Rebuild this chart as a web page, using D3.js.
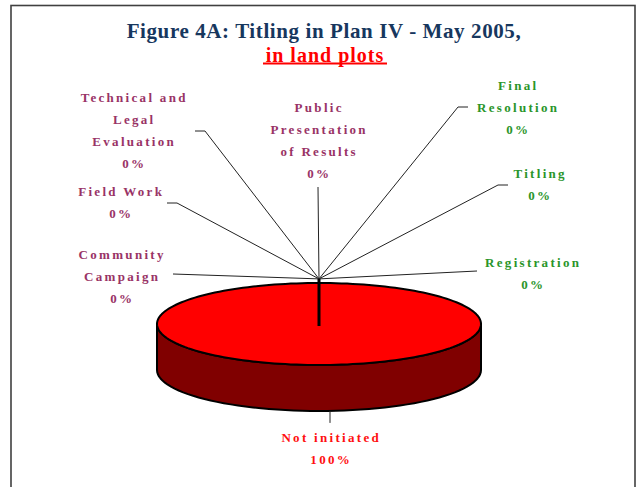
<!DOCTYPE html>
<html>
<head>
<meta charset="utf-8">
<script src="https://cdn.jsdelivr.net/npm/d3@7"></script>
<style>
body { margin: 0; background: #fff; }
svg { display: block; }
</style>
</head>
<body>
<div id="chart"></div>
<script>
// chart data
var categories = ["Not initiated", "Community Campaign", "Field Work", "Technical and Legal Evaluation",
	"Public Presentation of Results", "Final Resolution", "Titling", "Registration"];
var values = [100, 0, 0, 0, 0, 0, 0, 0];
var titleLine1 = "Figure 4A: Titling in Plan IV - May 2005,";
var titleLine2 = "in land plots";

// label layout (wrapped text, anchor, leader line end points)
var labelLayout = [
	{ lines : [ "Not initiated" ], x : 330, y : 437, color : "#ff1010" },
	{ lines : [ "Community", "Campaign" ], x : 121, y : 254, elbow : [ 173, 274 ], end : [ 173, 274 ], color : "#993366" },
	{ lines : [ "Field Work" ], x : 120, y : 191, elbow : [ 177, 203 ], end : [ 167, 203 ], color : "#993366" },
	{ lines : [ "Technical and", "Legal", "Evaluation" ], x : 133, y : 97, elbow : [ 205, 131 ], end : [ 195, 131 ], color : "#993366" },
	{ lines : [ "Public", "Presentation", "of Results" ], x : 318, y : 107, elbow : [ 318, 187 ], end : [ 318, 187 ], color : "#993366" },
	{ lines : [ "Final", "Resolution" ], x : 517, y : 85, elbow : [ 458, 107 ], end : [ 468, 107 ], color : "#2a952a" },
	{ lines : [ "Titling" ], x : 539, y : 173, elbow : [ 498, 185 ], end : [ 508, 185 ], color : "#2a952a" },
	{ lines : [ "Registration" ], x : 532, y : 262, elbow : [ 477, 271 ], end : [ 477, 271 ], color : "#2a952a" }
];

var width = 638, height = 487;
var cx = 319, cy = 324, rx = 162, ry = 41, depth = 46;

var svg = d3.select("#chart").append("svg").attr("width", width).attr("height", height);

// frame
svg.append("rect").attr("x", 11).attr("y", 5.5).attr("width", 624).attr("height", 500)
		.attr("fill", "none").attr("stroke", "#404040").attr("stroke-width", 1.6);

// title
svg.append("text").attr("x", 324).attr("y", 38).attr("text-anchor", "middle")
		.style("font-family", "'Liberation Serif', serif").style("font-weight", "bold")
		.style("font-size", "21px").style("letter-spacing", "0.6px").attr("fill", "#17375e")
		.text(titleLine1);
svg.append("text").attr("x", 325).attr("y", 62).attr("text-anchor", "middle")
		.style("font-family", "'Liberation Serif', serif").style("font-weight", "bold")
		.style("font-size", "20px").style("letter-spacing", "1px").attr("fill", "#ff0000")
		.text(titleLine2);
svg.append("line").attr("x1", 263).attr("x2", 387).attr("y1", 63.5).attr("y2", 63.5)
		.attr("stroke", "#ff0000").attr("stroke-width", 2);

var pie = d3.pie().sort(null).value(function(d) {
	return d;
});
var arcs = pie(values);
var total = d3.sum(values);
var pct = d3.format(".0%");

// point on the top ellipse for a d3 angle (0 = top, clockwise)
function pt(a, k, dy) {
	k = k || 1;
	return [ cx + rx * k * Math.sin(a), cy - ry * k * Math.cos(a) + (dy || 0) ];
}

var line = d3.line();

arcs.forEach(function(d) {
	if (d.endAngle - d.startAngle <= 0) return;
	// side wall, visible between right (pi/2) and left (3pi/2)
	var a0 = Math.max(d.startAngle, Math.PI / 2), a1 = Math.min(d.endAngle, 3 * Math.PI / 2);
	if (a1 > a0) {
		var top = d3.range(0, 61).map(function(i) {
			return pt(a0 + (a1 - a0) * i / 60);
		});
		var bottom = top.slice().reverse().map(function(p) {
			return [ p[0], p[1] + depth ];
		});
		svg.append("path").attr("d", line(top.concat(bottom)) + "Z").attr("fill", "#800000")
				.attr("stroke", "#000").attr("stroke-width", 2).attr("stroke-linejoin", "round");
	}
	var n = Math.max(2, Math.round((d.endAngle - d.startAngle) / (2 * Math.PI) * 180));
	var rim = d3.range(0, n + 1).map(function(i) {
		return pt(d.startAngle + (d.endAngle - d.startAngle) * i / n);
	});
	svg.append("path").attr("d", line([ [ cx, cy ] ].concat(rim)) + "Z").attr("fill", "#ff0000")
			.attr("stroke", "none");
	svg.append("path").attr("d", line(rim)).attr("fill", "none").attr("stroke", "#000")
			.attr("stroke-width", 2).attr("stroke-linejoin", "round");
});

// leader lines for the empty slices
arcs.forEach(function(d, i) {
	var lay = labelLayout[i];
	if (d.value > 0) return;
	var hub = pt(d.startAngle, 1.1);
	svg.append("path").attr("d", line([ hub, lay.elbow, lay.end ])).attr("fill", "none")
			.attr("stroke", "#222").attr("stroke-width", 1);
});

// radius at slice boundary
arcs.forEach(function(d) {
	if (d.value <= 0) return;
	var hub = pt(d.startAngle, 1.1);
	svg.append("line").attr("x1", cx).attr("y1", cy + 2).attr("x2", hub[0]).attr("y2", hub[1])
			.attr("stroke", "#000").attr("stroke-width", 3);
});

// leader line for the full slice
arcs.forEach(function(d, i) {
	if (d.value <= 0) return;
	var lay = labelLayout[i];
	var yb = cy + ry * Math.sqrt(1 - Math.pow((lay.x - cx) / rx, 2)) + depth;
	svg.append("line").attr("x1", lay.x).attr("x2", lay.x).attr("y1", yb).attr("y2", yb + 12)
			.attr("stroke", "#222").attr("stroke-width", 1);
});

// labels
arcs.forEach(function(d, i) {
	var lay = labelLayout[i];
	var lines = lay.lines.concat([ pct(d.value / total) ]);
	var t = svg.append("text").attr("text-anchor", "middle")
			.style("font-family", "'Liberation Serif', serif").style("font-weight", "bold")
			.style("font-size", "13px").style("letter-spacing", "2.3px").attr("fill", lay.color);
	lines.forEach(function(s, j) {
		t.append("tspan").attr("x", lay.x + 1.2).attr("y", lay.y + 4.5 + j * 22).text(s);
	});
});
</script>
</body>
</html>
